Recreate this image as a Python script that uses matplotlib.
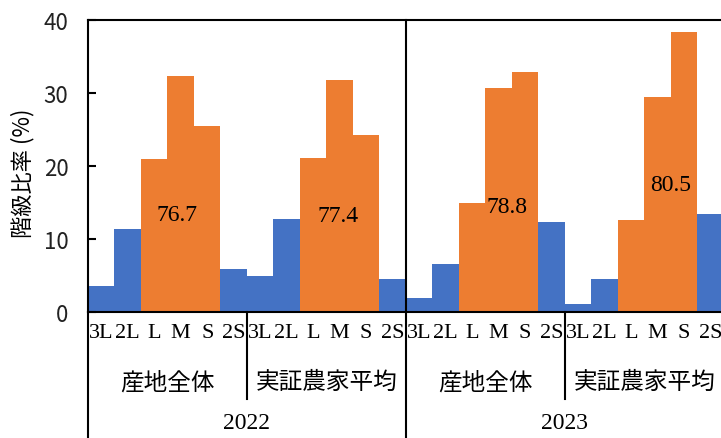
import matplotlib.pyplot as plt
import numpy as np

# 階級別の比率 (%)
sizes = ['3L', '2L', 'L', 'M', 'S', '2S']
groups = ['産地全体', '実証農家平均', '産地全体', '実証農家平均']
years = ['2022', '2023']

g2022_all = [3.6, 11.4, 20.9, 32.3, 25.5, 5.9]
g2022_farm = [5.0, 12.8, 21.1, 31.8, 24.3, 4.6]
g2023_all = [2.0, 6.6, 15.0, 30.7, 32.9, 12.3]
g2023_farm = [1.2, 4.6, 12.6, 29.4, 38.3, 13.5]

# L+M+S の合計 (グラフ内の表示値)
lms_total = ['76.7', '77.4', '78.8', '80.5']

blue = '#4472C4'
orange = '#ED7D31'
jp = ['Noto Sans CJK JP', 'DejaVu Sans']
serif = ['Liberation Serif', 'DejaVu Serif']

fig = plt.figure(figsize=(7.21, 4.39), dpi=100)
ax = fig.add_axes([0.122, 0.2863, 0.882, 0.6665])

series = [g2022_all, g2022_farm, g2023_all, g2023_farm]
vals = np.concatenate(series)
x = np.arange(len(vals))
cols = [orange if s in ('L', 'M', 'S') else blue for s in sizes] * len(series)
ax.bar(x, vals, width=1.0, color=cols, linewidth=0)

ax.set_xlim(-0.5, len(vals) - 0.5)
ax.set_ylim(0, 40)
ax.set_yticks([0, 10, 20, 30, 40])
ax.tick_params(axis='y', direction='in', length=6, width=1.5, pad=14, labelsize=16)
for lab in ax.get_yticklabels():
    lab.set_family(jp)
    lab.set_color('#222222')

ax.set_xticks(x)
ax.set_xticklabels(sizes * len(series), family=serif, fontsize=16)
ax.tick_params(axis='x', length=0, pad=8)

for sp in ax.spines.values():
    sp.set_linewidth(1.5)
ax.spines['right'].set_visible(False)

# 合計値ラベル
label_pos = [(2.86, 13.4), (8.93, 13.2), (15.31, 14.5), (21.5, 17.5)]
for (lx, ly), t in zip(label_pos, lms_total):
    ax.text(lx, ly, t, ha='center', va='center', family=serif, fontsize=17)

# 区切り線とグループラベル
trans = ax.get_xaxis_transform()
n = len(sizes)
bottom = -0.43
ax.plot([-0.5, -0.5], [0, bottom], color='black', lw=1.5, transform=trans, clip_on=False)
for i, g in enumerate(groups):
    cx = i * n + (n - 1) / 2
    ax.text(cx, -0.238, g, ha='center', va='center', family=jp, fontsize=17, transform=trans)
    if i % 2 == 1 and i < len(groups) - 1:
        sx = (i + 1) * n - 0.5
        ax.plot([sx, sx], [1, bottom], color='black', lw=1.5, transform=trans, clip_on=False)
    elif i % 2 == 0:
        sx = (i + 1) * n - 0.5
        ax.plot([sx, sx], [0, -0.296], color='black', lw=1.5, transform=trans, clip_on=False)

for j, y in enumerate(years):
    cx = j * 2 * n + n - 0.5
    ax.text(cx, -0.378, y, ha='center', va='center', family=serif, fontsize=17, transform=trans)

ax.text(-65 / 636, 0.48, '階級比率 (%)', rotation=90, ha='center', va='center',
        family=jp, fontsize=16, transform=ax.transAxes)

plt.savefig('out.png')
